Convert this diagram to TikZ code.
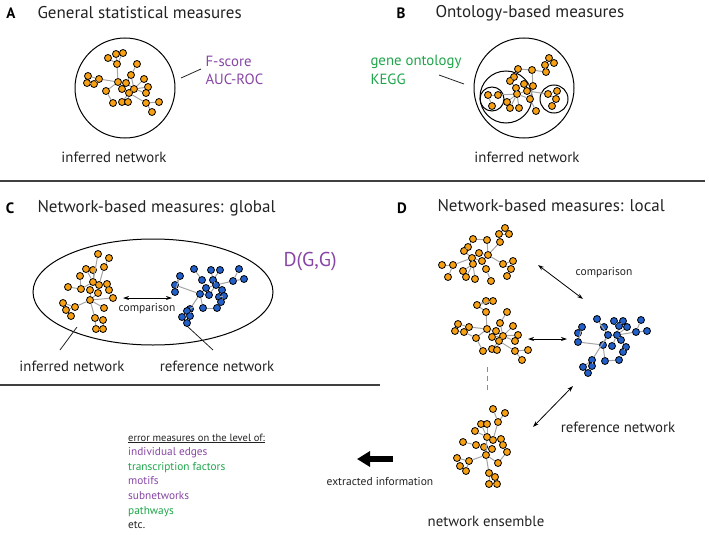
\documentclass[tikz,border=0pt]{standalone}
\usepackage{fontspec}
\setmainfont{PT Sans}
\usetikzlibrary{positioning,arrows.meta}
\definecolor{nodeorange}{RGB}{247,160,20}
\definecolor{nodeblue}{RGB}{35,95,200}
\definecolor{edgegray}{RGB}{165,165,165}
\definecolor{mpurple}{RGB}{135,70,165}
\definecolor{mgreen}{RGB}{30,165,75}
\definecolor{textgray}{RGB}{35,35,35}

\begin{document}
\begin{tikzpicture}[x=1pt,y=-1pt,
    onode/.style={circle,draw=black,fill=nodeorange,line width=0.8pt,inner sep=0pt,minimum size=7pt},
    bnode/.style={onode,fill=nodeblue},
    link/.style={draw=edgegray,line width=1pt},
    heading/.style={anchor=west,text=textgray,font=\fontsize{17}{19}\selectfont},
    letter/.style={text=black,font=\fontsize{15}{17}\selectfont\bfseries},
    netlabel/.style={text=textgray,font=\fontsize{14.8}{17}\selectfont},
    smalltext/.style={text=textgray,font=\fontsize{11.5}{13}\selectfont},
    listtext/.style={anchor=base west,inner sep=0pt,text=textgray,font=\fontsize{11.3}{13}\selectfont},
    ring/.style={draw=black,line width=1pt},
    pointer/.style={draw=textgray,line width=0.8pt},
    separator/.style={draw=black!75,line width=1.4pt},
    compare/.style={{Stealth[length=6pt,width=4pt]}-{Stealth[length=6pt,width=4pt]},line width=0.8pt}]
  \useasboundingbox (0,0) rectangle (709,535);

  \node[letter] (letA) at (11,13) {A};
  \node[heading] (titA) at (34,13) {General statistical measures};
  \node[letter] (letB) at (401,13) {B};
  \node[heading] (titB) at (432,13) {Ontology-based measures};
  \node[letter] (letC) at (10,208) {C};
  \node[heading] (titC) at (34,208) {Network-based measures: global};
  \node[letter] (letD) at (402,208) {D};
  \node[heading] (titD) at (434,206) {Network-based measures: local};

  \draw[separator] (0,181) -- (705,181);
  \draw[separator] (0,385) -- (380,385);

  \draw[ring] (125,88) circle [radius=50];
  \coordinate (pA1) at (181,78);
  \coordinate (pA2) at (201,69);
  \draw[pointer] (pA1) -- (pA2);
  \node[netlabel,anchor=west,text=mpurple] (fscore) at (202,61) {F-score};
  \node[netlabel,anchor=west,text=mpurple] (aucroc) at (202,79) {AUC-ROC};
  \node[netlabel] (infA) at (114,157) {inferred network};

  \foreach \n/\x/\y in {1/108/58,2/116/54,3/123/53,4/117/64,5/137/64,6/88/76,7/99/79,8/87/83,9/94/84,
      10/131/75,11/118/82,12/126/83,13/144/79,14/122/89,15/148/87,16/106/91,17/134/89,18/129/93,
      19/146/93,20/113/103,21/122/102,22/128/102,23/146/103,24/159/102,25/152/112}
    \node[onode] (a\n) at (\x,\y) {};
  \foreach \u/\v in {1/4,2/4,3/4,4/11,5/10,10/12,6/7,7/11,8/9,9/7,11/12,11/16,16/20,11/14,12/17,
      14/18,17/13,17/15,17/19,17/18,18/21,18/22,18/23,23/24,23/25,10/17}
    \draw[link] (a\u) -- (a\v);

  \draw[ring] (524,88) circle [radius=50];
  \draw[ring] (506,97) circle [radius=26];
  \draw[ring] (492,99) circle [radius=12];
  \draw[ring] (554,99) circle [radius=14];
  \coordinate (pB1) at (439,75);
  \coordinate (pB2) at (464,84);
  \draw[pointer] (pB1) -- (pB2);
  \node[netlabel,anchor=west,text=mgreen] (geneont) at (367,62) {gene ontology};
  \node[netlabel,anchor=west,text=mgreen] (kegg) at (367,79) {KEGG};
  \node[netlabel] (infB) at (527,157) {inferred network};

  \foreach \n/\x/\y in {1/549/58,2/554/63,3/545/65,4/546/72,5/532/70,6/518/69,7/514/77,8/510/81,
      9/524/84,10/533/86,11/516/88,12/527/91,13/517/94,14/530/99,15/507/102,16/510/108,17/519/108,
      18/536/111,19/488/95,20/498/95,21/492/106,22/548/94,23/557/91,24/556/99,25/552/106}
    \node[onode] (b\n) at (\x,\y) {};
  \foreach \u/\v in {1/3,2/3,3/4,4/5,5/6,5/10,6/7,7/8,8/11,9/10,9/11,10/12,11/13,12/13,12/22,13/14,
      14/18,13/15,13/16,13/17,13/20,19/20,19/21,22/23,22/24,23/24,24/25,10/14}
    \draw[link] (b\u) -- (b\v);

  \draw[ring] (153,292) ellipse [x radius=120,y radius=53];
  \node[anchor=west,text=mpurple,font=\fontsize{20}{22}\selectfont] (dgg) at (280,262) {D(G,G)};
  \coordinate (cmpL) at (123,298);
  \coordinate (cmpR) at (172,298);
  \draw[compare] (cmpL) -- (cmpR);
  \node[smalltext] (cmpC) at (147,309) {comparison};
  \coordinate (pC1) at (60,350);
  \coordinate (pC2) at (77,327);
  \draw[pointer] (pC1) -- (pC2);
  \coordinate (pC3) at (187,326);
  \coordinate (pC4) at (213,350);
  \draw[pointer] (pC3) -- (pC4);
  \node[netlabel] (infC) at (72,366) {inferred network};
  \node[netlabel] (refC) at (217,366) {reference network};

  \foreach \n/\x/\y in {1/98/254,2/109/258,3/104/267,4/86/269,5/93/270,6/80/276,7/93/282,8/99/285,
      9/107/284,10/68/287,11/81/289,12/90/290,13/109/290,14/98/293,15/113/298,16/90/300,17/63/303,
      18/75/307,19/66/310,20/104/308,21/71/316,22/95/318,23/103/320,24/96/329,25/103/329}
    \node[onode] (c\n) at (\x,\y) {};
  \foreach \u/\v in {1/7,2/3,3/8,4/7,5/7,6/11,11/7,7/8,8/9,9/13,7/12,12/16,14/16,8/14,10/11,16/15,
      15/13,16/20,17/18,18/19,19/21,18/16,16/22,22/23,22/24,23/25,24/25}
    \draw[link] (c\u) -- (c\v);

  \foreach \n/\x/\y in {1/194/269,2/211/270,3/220/270,4/239/269,5/180/276,6/202/280,7/213/280,
      8/244/279,9/233/281,10/175/285,11/206/288,12/216/285,13/222/290,14/175/292,15/200/294,
      16/209/295,17/219/297,18/224/296,19/221/302,20/190/309,21/203/308,22/217/308,23/187/311,
      24/182/317,25/190/316,26/187/323}
    \node[bnode] (r\n) at (\x,\y) {};
  \foreach \u/\v in {1/6,2/7,3/7,4/9,8/9,9/12,6/11,7/12,11/12,5/10,5/14,10/15,11/15,15/16,12/13,
      13/17,17/18,18/19,15/20,15/21,21/22,22/19,20/23,23/24,24/25,20/25,25/26,16/12}
    \draw[link] (r\u) -- (r\v);

  \foreach \n/\x/\y in {1/505/228,2/499/234,3/509/234,4/473/239,5/487/240,6/500/242,7/468/247,
      8/464/251,9/479/253,10/488/255,11/472/258,12/482/261,13/442/265,14/453/265,15/473/264,
      16/503/264,17/513/261,18/463/271,19/486/269,20/511/269,21/448/277,22/466/277,23/475/279,
      24/507/276,25/491/281}
    \node[onode] (t\n) at (\x,\y) {};
  \foreach \u/\v in {1/2,1/3,2/3,2/6,6/10,4/5,5/10,7/8,8/11,9/10,9/11,11/12,10/12,11/14,13/14,14/21,
      11/15,15/18,15/22,15/23,12/19,19/25,10/16,16/17,16/20,17/20,20/24,4/7}
    \draw[link] (t\u) -- (t\v);

  \foreach \n/\x/\y in {1/477/305,2/486/301,3/493/301,4/486/312,5/507/312,6/458/324,7/469/327,
      8/455/331,9/464/332,10/487/329,11/500/323,12/513/326,13/496/331,14/476/338,15/492/337,
      16/503/336,17/518/335,18/499/341,19/515/341,20/483/351,21/492/349,22/497/350,23/515/351,
      24/528/350,25/522/360}
    \node[onode] (m\n) at (\x,\y) {};
  \foreach \u/\v in {1/2,1/3,2/3,1/4,4/10,5/11,11/16,6/7,8/9,7/10,9/14,14/10,10/13,13/16,10/15,
      15/16,16/12,16/17,16/19,16/18,18/21,18/22,20/14,20/21,18/23,23/24,23/25}
    \draw[link] (m\u) -- (m\v);

  \foreach \n/\x/\y in {1/597/319,2/614/321,3/623/321,4/641/320,5/582/327,6/604/327,7/627/327,
      8/619/326,9/647/331,10/636/332,11/578/333,12/608/335,13/617/335,14/621/340,15/578/342,
      16/603/345,17/612/346,18/626/347,19/623/352,20/592/360,21/605/361,22/619/360,23/583/367,
      24/592/366,25/588/373}
    \node[bnode] (s\n) at (\x,\y) {};
  \foreach \u/\v in {1/12,6/12,2/8,3/8,8/13,7/13,4/10,9/10,10/13,12/13,5/11,5/15,11/15,15/16,12/16,
      13/17,13/14,14/18,18/19,12/20,16/21,21/22,22/19,20/23,20/24,23/25,24/25}
    \draw[link] (s\u) -- (s\v);

  \foreach \n/\x/\y in {1/493/409,2/505/413,3/498/422,4/481/424,5/487/424,6/475/431,7/487/437,
      8/493/440,9/501/439,10/463/442,11/476/445,12/484/447,13/492/449,14/503/445,15/507/452,
      16/486/455,17/457/458,18/469/461,19/460/466,20/498/463,21/466/471,22/489/473,23/495/477,
      24/489/484,25/497/484}
    \node[onode] (e\n) at (\x,\y) {};
  \foreach \u/\v in {1/3,2/3,3/8,4/7,5/7,6/7,7/8,8/9,9/14,14/15,15/20,10/11,11/12,12/16,13/16,7/16,
      16/18,17/18,17/19,19/21,18/21,16/22,22/23,22/24,23/25,24/25,20/16}
    \draw[link] (e\u) -- (e\v);

  \coordinate (cmpD1) at (538,265);
  \coordinate (cmpD2) at (583,299);
  \draw[compare] (cmpD1) -- (cmpD2);
  \node[smalltext] (cmpDtxt) at (604,273) {comparison};
  \coordinate (cmpD3) at (528,339);
  \coordinate (cmpD4) at (567,339);
  \draw[compare] (cmpD3) -- (cmpD4);
  \coordinate (cmpD5) at (573,386);
  \coordinate (cmpD6) at (533,427);
  \draw[compare] (cmpD5) -- (cmpD6);
  \coordinate (dashT) at (487,367);
  \coordinate (dashB) at (487,390);
  \draw[draw=black!45,line width=1pt,dash pattern=on 5pt off 4pt] (dashT) -- (dashB);
  \node[netlabel] (refD) at (618,427) {reference network};
  \node[netlabel] (ensD) at (486,521) {network ensemble};

  \coordinate (xtail) at (393,459);
  \coordinate (xhead) at (357,459);
  \draw[-{Triangle[length=13pt,width=15pt]},line width=6pt] (xtail) -- (xhead);
  \node[smalltext] (xinfo) at (380,481) {extracted information};

  \node[listtext,font=\fontsize{10.5}{12}\selectfont] (err0) at (128,441) {\underline{error measures on the level of:}};
  \foreach \txt/\col [count=\k] in {individual edges/mpurple,transcription factors/mgreen,
      motifs/mpurple,subnetworks/mpurple,pathways/mgreen,etc./textgray}
    \node[listtext,text=\col] (err\k) at (128,441+14.6*\k) {\txt};
\end{tikzpicture}
\end{document}
